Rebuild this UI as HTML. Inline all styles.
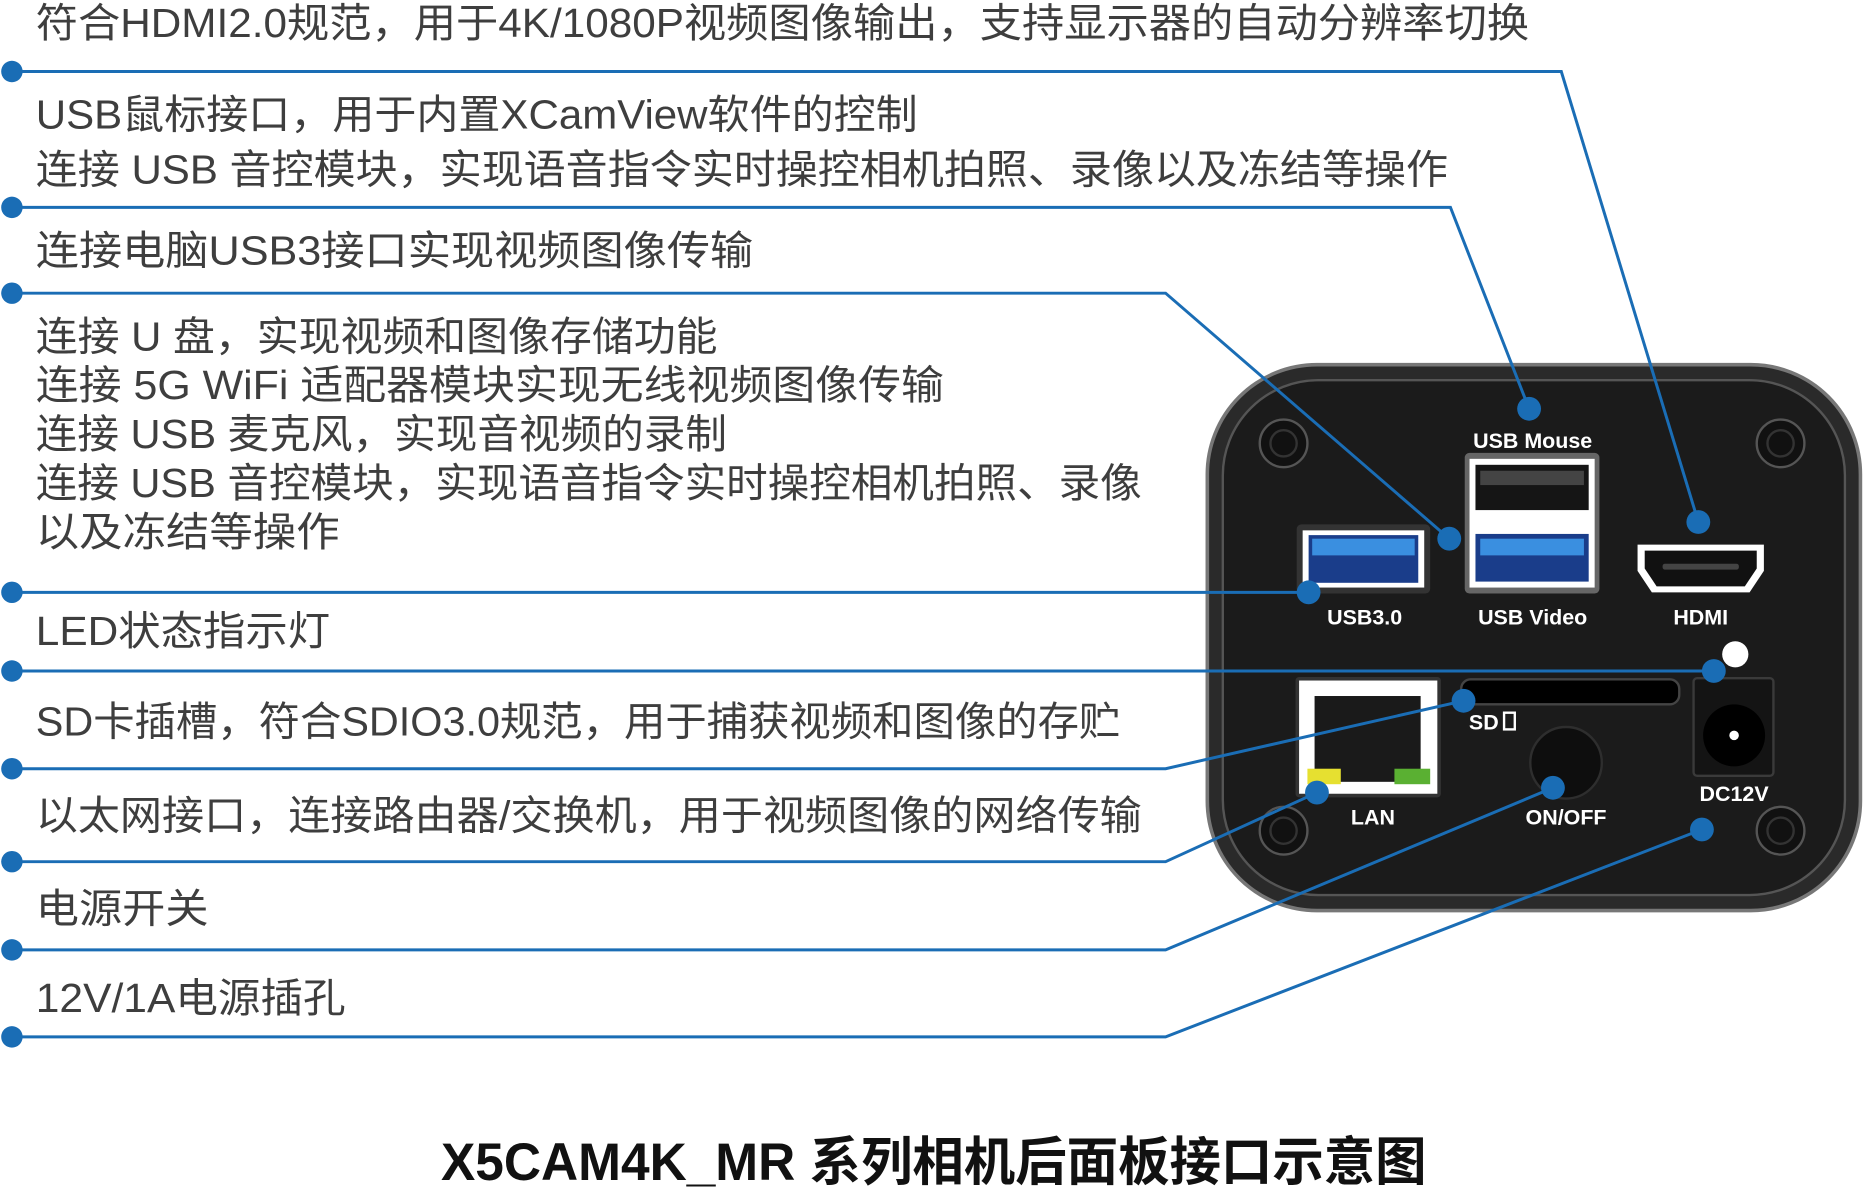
<!DOCTYPE html>
<html><head><meta charset="utf-8"><style>
html,body{margin:0;padding:0;background:#fff;}
svg{display:block;}
.t{font-family:"Liberation Sans","Noto Sans CJK SC",sans-serif;font-size:34px;fill:#3e3e3e;}
.w{font-family:"Liberation Sans",sans-serif;font-size:18px;fill:#fff;font-weight:bold;text-anchor:middle;}
</style></head><body>
<svg width="1864" height="1193" viewBox="0 0 1564 1001" preserveAspectRatio="none" xmlns="http://www.w3.org/2000/svg">
<rect x="1013" y="306" width="548" height="458" rx="92" fill="#2a2a2a" stroke="#777" stroke-width="3"/>
<rect x="1026" y="319" width="522" height="432" rx="80" fill="#1b1b1b" stroke="#555" stroke-width="2"/>
<g fill="#111" stroke="#555" stroke-width="2">
<circle cx="1077" cy="372" r="20"/><circle cx="1494" cy="372" r="20"/>
<circle cx="1077" cy="697" r="20"/><circle cx="1494" cy="697" r="20"/>
</g>
<g fill="none" stroke="#333" stroke-width="2">
<circle cx="1077" cy="372" r="11"/><circle cx="1494" cy="372" r="11"/>
<circle cx="1077" cy="697" r="11"/><circle cx="1494" cy="697" r="11"/>
</g>
<rect x="1088" y="440" width="112" height="58" rx="4" fill="#333"/>
<rect x="1093" y="445" width="102" height="48" fill="#fff"/>
<rect x="1098" y="449" width="92" height="40" fill="#1a3d8a"/>
<rect x="1101" y="452" width="86" height="14" fill="#3a8fe0"/>
<rect x="1229" y="380" width="113" height="118" rx="4" fill="#666"/>
<rect x="1233" y="385" width="105" height="108" fill="#fff"/>
<rect x="1238" y="390" width="95" height="38" fill="#151515"/>
<rect x="1242" y="395" width="87" height="12" fill="#444"/>
<rect x="1238" y="448" width="95" height="40" fill="#1a3d8a"/>
<rect x="1242" y="452" width="87" height="14" fill="#3a8fe0"/>
<path d="M1374 457 h106 v22 l-12 18 h-82 l-12 -18 z" fill="#fff"/>
<path d="M1380 462 h94 v15 l-10 15 h-74 l-10 -15 z" fill="#111"/>
<rect x="1395" y="473" width="64" height="5" rx="2" fill="#444"/>
<rect x="1087" y="568" width="122" height="101" rx="3" fill="#333"/>
<rect x="1090" y="571" width="116" height="95" fill="#fff"/>
<rect x="1103" y="584" width="89" height="72" fill="#1a1a1a"/>
<rect x="1097" y="645" width="28" height="13" fill="#e6e030"/>
<rect x="1170" y="645" width="30" height="13" fill="#5ab032"/>
<rect x="1226" y="570" width="183" height="21" rx="8" fill="#000" stroke="#444" stroke-width="2"/>
<circle cx="1314" cy="640" r="30" fill="#0e0e0e" stroke="#2e2e2e" stroke-width="2"/>
<rect x="1421" y="569" width="67" height="82" rx="3" fill="#141414" stroke="#3a3a3a" stroke-width="2"/>
<circle cx="1455" cy="617" r="26" fill="#000"/>
<circle cx="1455" cy="617" r="4" fill="#fff"/>
<circle cx="1456" cy="549" r="11" fill="#fff"/>
<text class="w" x="1286" y="376">USB Mouse</text>
<text class="w" x="1145" y="524">USB3.0</text>
<text class="w" x="1286" y="524">USB Video</text>
<text class="w" x="1427" y="524">HDMI</text>
<text class="w" x="1152" y="692">LAN</text>
<text class="w" x="1314" y="692">ON/OFF</text>
<text class="w" x="1455" y="672">DC12V</text>
<text class="w" x="1245" y="612">SD</text>
<rect x="1262" y="598" width="9" height="14" fill="none" stroke="#fff" stroke-width="2"/>
<g fill="none" stroke="#1a6db5" stroke-width="2.5">
<polyline points="10,60 1310,60 1425,438"/>
<polyline points="10,174 1217,174 1283,343"/>
<polyline points="10,246 978,246 1216,452"/>
<polyline points="10,497 1098,497"/>
<polyline points="10,563 1438,563"/>
<polyline points="10,645 978,645 1228,588"/>
<polyline points="10,723 978,723 1105,665"/>
<polyline points="10,797 978,797 1303,661"/>
<polyline points="10,870 978,870 1428,696"/>
</g>
<g fill="#1a6db5">
<circle cx="10" cy="60" r="9"/><circle cx="10" cy="174" r="9"/><circle cx="10" cy="246" r="9"/>
<circle cx="10" cy="497" r="9"/><circle cx="10" cy="563" r="9"/><circle cx="10" cy="645" r="9"/>
<circle cx="10" cy="723" r="9"/><circle cx="10" cy="797" r="9"/><circle cx="10" cy="870" r="9"/>
<circle cx="1425" cy="438" r="10"/><circle cx="1283" cy="343" r="10"/><circle cx="1216" cy="452" r="10"/>
<circle cx="1098" cy="497" r="10"/><circle cx="1438" cy="563" r="10"/><circle cx="1228" cy="588" r="10"/>
<circle cx="1105" cy="665" r="10"/><circle cx="1303" cy="661" r="10"/><circle cx="1428" cy="696" r="10"/>
</g>
<g lengthAdjust="spacingAndGlyphs">
<text class="t" x="30" y="31" textLength="1253" lengthAdjust="spacingAndGlyphs">符合HDMI2.0规范，用于4K/1080P视频图像输出，支持显示器的自动分辨率切换</text>
<text class="t" x="30" y="108" textLength="740" lengthAdjust="spacingAndGlyphs">USB鼠标接口，用于内置XCamView软件的控制</text>
<text class="t" x="30" y="154" textLength="1185" lengthAdjust="spacingAndGlyphs">连接 USB 音控模块，实现语音指令实时操控相机拍照、录像以及冻结等操作</text>
<text class="t" x="30" y="222" textLength="602" lengthAdjust="spacingAndGlyphs">连接电脑USB3接口实现视频图像传输</text>
<text class="t" x="30" y="294" textLength="572" lengthAdjust="spacingAndGlyphs">连接 U 盘，实现视频和图像存储功能</text>
<text class="t" x="30" y="335" textLength="762" lengthAdjust="spacingAndGlyphs">连接 5G WiFi 适配器模块实现无线视频图像传输</text>
<text class="t" x="30" y="376" textLength="580" lengthAdjust="spacingAndGlyphs">连接 USB 麦克风，实现音视频的录制</text>
<text class="t" x="30" y="417" textLength="928" lengthAdjust="spacingAndGlyphs">连接 USB 音控模块，实现语音指令实时操控相机拍照、录像</text>
<text class="t" x="30" y="458" textLength="255" lengthAdjust="spacingAndGlyphs">以及冻结等操作</text>
<text class="t" x="30" y="541" textLength="247" lengthAdjust="spacingAndGlyphs">LED状态指示灯</text>
<text class="t" x="30" y="617" textLength="910" lengthAdjust="spacingAndGlyphs">SD卡插槽，符合SDIO3.0规范，用于捕获视频和图像的存贮</text>
<text class="t" x="30" y="696" textLength="928" lengthAdjust="spacingAndGlyphs">以太网接口，连接路由器/交换机，用于视频图像的网络传输</text>
<text class="t" x="30" y="774" textLength="145" lengthAdjust="spacingAndGlyphs">电源开关</text>
<text class="t" x="30" y="849" textLength="260" lengthAdjust="spacingAndGlyphs">12V/1A电源插孔</text>
</g>
<text x="370" y="990" textLength="827" lengthAdjust="spacingAndGlyphs" font-family="'Liberation Sans','Noto Sans CJK SC',sans-serif" font-size="44" font-weight="bold" fill="#111">X5CAM4K_MR 系列相机后面板接口示意图</text>
</svg>
</body></html>
